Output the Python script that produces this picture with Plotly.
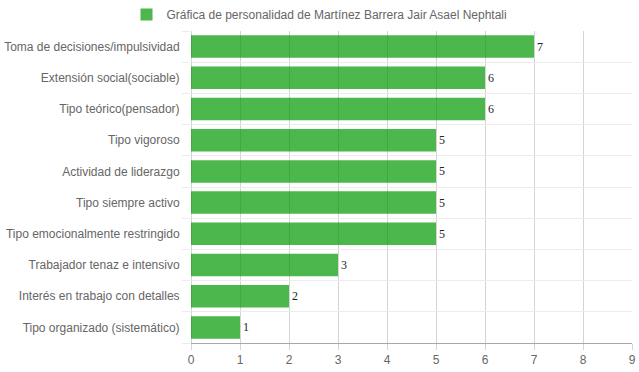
import plotly.graph_objects as go

categories = [
    "Toma de decisiones/impulsividad",
    "Extensión social(sociable)",
    "Tipo teórico(pensador)",
    "Tipo vigoroso",
    "Actividad de liderazgo",
    "Tipo siempre activo",
    "Tipo emocionalmente restringido",
    "Trabajador tenaz e intensivo",
    "Interés en trabajo con detalles",
    "Tipo organizado (sistemático)",
]
values = [7, 6, 6, 5, 5, 5, 5, 3, 2, 1]
series_name = "Gráfica de personalidad de Martínez Barrera Jair Asael Nephtali"
x_ticks = list(range(0, 10))

positions = list(range(len(categories)))
boundaries = [p - 0.5 for p in positions] + [positions[-1] + 0.5]
yr = [len(categories) - 0.5, -0.5]

fig = go.Figure()
fig.add_trace(go.Bar(
    x=values, y=positions, orientation="h", width=0.72,
    name=series_name,
    marker=dict(color="rgba(0,153,0,0.7)", line=dict(width=0)),
    text=[str(v) for v in values], textposition="outside",
    textfont=dict(family="Liberation Serif, Times New Roman, serif", size=12, color="#222"),
    cliponaxis=False,
))
# invisible trace on secondary axis to host horizontal grid lines
fig.add_trace(go.Scatter(x=[0], y=[0], yaxis="y2", mode="markers",
                         marker=dict(opacity=0), showlegend=False, hoverinfo="skip"))

fig.update_layout(
    width=639, height=372,
    margin=dict(l=191, r=7, t=31, b=29, autoexpand=False),
    paper_bgcolor="white", plot_bgcolor="white",
    font=dict(family="Liberation Sans, Arial, Helvetica, sans-serif", size=12, color="#666"),
    showlegend=True,
    legend=dict(orientation="h", xref="container", yref="container",
                x=0.5, xanchor="center", y=1.0, yanchor="top",
                font=dict(size=12, color="#666"), bgcolor="rgba(0,0,0,0)"),
    bargap=0.28,
    xaxis=dict(range=[0, 9], tickvals=x_ticks, showgrid=True, gridcolor="#d4d4d4",
               zeroline=True, zerolinecolor="#d4d4d4", zerolinewidth=1,
               showline=True, linecolor="#a8a8a8", linewidth=1, automargin=False,
               ticks="outside", ticklen=6, tickcolor="#d4d4d4", fixedrange=True),
    yaxis=dict(range=yr, tickvals=positions, ticktext=categories, showgrid=False,
               zeroline=False, ticks="outside", ticklen=8, tickcolor="rgba(0,0,0,0)",
               automargin=False),
    yaxis2=dict(range=yr, overlaying="y", side="left", tickvals=boundaries,
                showticklabels=False, showgrid=True, gridcolor="#ececec", automargin=False,
                zeroline=False, ticks="outside", ticklen=8, tickcolor="#ececec"),
)

fig.write_html("out.html", config={"displayModeBar": False},
               post_script="document.body.style.margin='0';document.body.style.overflow='hidden';")
